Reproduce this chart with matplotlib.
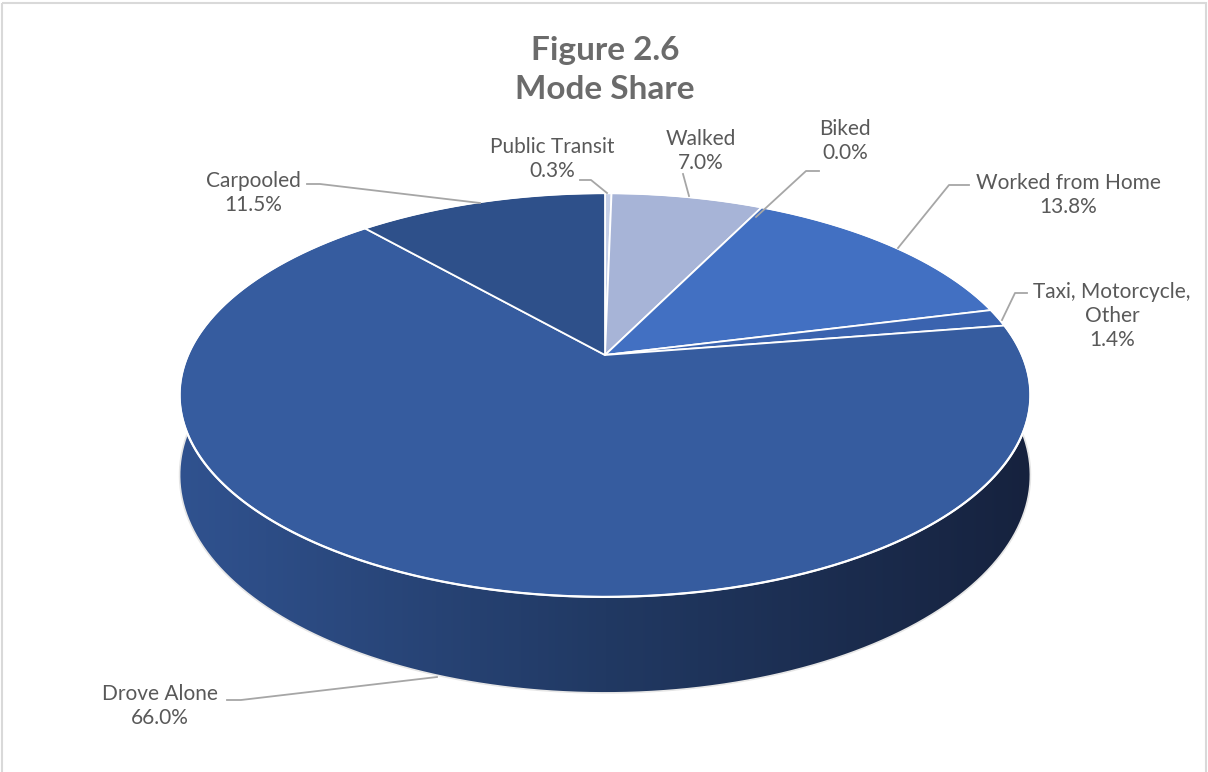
import numpy as np
import matplotlib.pyplot as plt
from matplotlib.patches import Polygon, Rectangle
from matplotlib.colors import to_rgb

# chart data, clockwise from 12 o'clock
modes = ['Public Transit', 'Walked', 'Biked', 'Worked from Home',
         'Taxi, Motorcycle,\nOther', 'Drove Alone', 'Carpooled']
shares = [0.3, 7.0, 0.0, 13.8, 1.4, 66.0, 11.5]
colors = ['#C5CFE8', '#A7B4D7', '#3F6FC0', '#4270C2',
          '#3A63AF', '#365C9F', '#2E508A']

# label placement (text centre, leader points)
label_pos = [(552, 159), (701, 151), (845, 141), (1068, 195),
             (1112, 316), (160, 706), (253, 193)]
leaders = [
    [(580, 180), (591, 180), (607, 193)],
    [(683, 174), (689, 196)],
    [(819, 171), (806, 171), (756, 217)],
    [(969, 185), (949, 185), (898, 248)],
    [(1027, 293), (1015, 293), (1002, 320)],
    [(227, 700), (241, 700), (437, 677)],
    [(307, 184), (320, 184), (480, 203)],
]

# pseudo 3d geometry in pixels
cx, cy = 605, 355
A, B = 417, 194
k = 0.198
H = 77


def proj(theta, depth=0.0):
    u = np.sin(theta)
    v = -np.cos(theta)
    s = 1.0 / (1.0 - k * v)
    return cx + A * u * s, cy + B * v * s + depth * s


plt.rcParams['font.family'] = ['Lato', 'DejaVu Sans']
fig = plt.figure(figsize=(12.08, 7.72), dpi=100)
ax = fig.add_axes([0, 0, 1, 1])
ax.set_xlim(0, 1208)
ax.set_ylim(772, 0)
ax.axis('off')

ax.add_patch(Rectangle((2, 3), 1204, 775, fill=False, ec='#D9D9D9', lw=1.5,
                       zorder=0))

# side wall: gradient image clipped to the front band
ths = np.radians(np.linspace(60, 300, 400))
top_arc = [proj(t) for t in ths]
bot_arc = [proj(t, H) for t in ths[::-1]]
side = Polygon(top_arc + bot_arc, closed=True, fc='none', ec='none')
ax.add_patch(side)

c_left = np.array(to_rgb('#30528F'))
c_mid = np.array(to_rgb('#213963'))
c_right = np.array(to_rgb('#16223E'))
f = np.linspace(0, 1, 400)  # 0 = left edge, 1 = right edge
grad = np.where(f[:, None] < 0.5,
                c_left + (c_mid - c_left) * (f[:, None] * 2),
                c_mid + (c_right - c_mid) * ((f[:, None] - 0.5) * 2))
img = ax.imshow(grad[None, :, :], extent=(180, 1032, 720, 300),
                aspect='auto', interpolation='bilinear', zorder=1)
img.set_clip_path(side)
ax.set_xlim(0, 1208)
ax.set_ylim(772, 0)

# bottom rim highlight
bt = np.radians(np.linspace(78, 282, 300))
bx, by = zip(*[proj(t, H) for t in bt])
ax.plot(bx, by, color='#E6E6E6', lw=1.2, zorder=1.5)

# top face slices
start = 0.0
for val, col in zip(shares, colors):
    end = start + val * 3.6
    if val > 0:
        tt = np.radians(np.linspace(start, end, max(int(val * 8), 4)))
        pts = [(cx, cy)] + [proj(t) for t in tt]
        ax.add_patch(Polygon(pts, closed=True, fc=col, ec='white', lw=1.3,
                             joinstyle='round', zorder=3))
    start = end

rim = np.radians(np.linspace(0, 360, 600))
rx, ry = zip(*[proj(t) for t in rim])
ax.plot(rx, ry, color='white', lw=1.6, zorder=4)

# labels
for name, val, (tx, ty), pts in zip(modes, shares, label_pos, leaders):
    xs, ys = zip(*pts)
    ax.plot(xs, ys, color='#A6A6A6', lw=1.3, zorder=5)
    ax.text(tx, ty, f'{name}\n{val:.1f}%', ha='center', va='center',
            fontsize=15, color='#595959', linespacing=1.28, zorder=6)

ax.text(605, 70, 'Figure 2.6\nMode Share', ha='center', va='center',
        fontsize=24, fontweight='bold', color='#6B6B6B', linespacing=1.42)

fig.savefig('out.png', dpi=100)
